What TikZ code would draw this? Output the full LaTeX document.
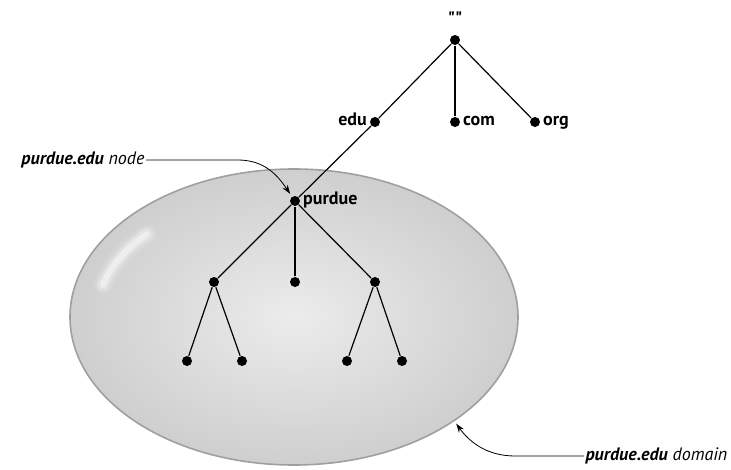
\documentclass[tikz,border=0pt]{standalone}
\usepackage{fontspec}
\setmainfont{PT Sans}
\newfontfamily\qfont{PT Sans}
\usetikzlibrary{arrows.meta,shapes.geometric,calc}
\tikzset{
  dot/.style={circle,fill=black,inner sep=0pt,minimum size=10pt},
  lbl/.style={font=\fontsize{18}{20}\selectfont\bfseries,inner sep=2pt,text height=10pt,text depth=3pt},
  note/.style={font=\fontsize{18}{20}\selectfont,inner sep=1pt}
}
\begin{document}
\begin{tikzpicture}[x=1pt,y=-1pt,line width=1.2pt,>={Stealth[length=9pt,width=6pt]}]
\useasboundingbox (0,0) rectangle (731,469);
% the domain
\node[ellipse,draw=gray!75,line width=1.6pt,minimum width=448,minimum height=296,
      inner color=gray!15,outer color=gray!38] (domain) at (294,317) {};
\begin{scope}
\clip (294,317) ellipse [x radius=222,y radius=146];
\foreach \w/\o in {18/.12,12/.25,6/.45}
  \draw[white,opacity=\o,line width=\w pt,line cap=round] (294,317) ++(195:198 and 124) arc[start angle=195,end angle=222,x radius=198,y radius=124];
\end{scope}
% tree
\node[dot] (root) at (455,40) {};
\node[lbl,anchor=south] (rootlbl) at ([yshift=4pt]root.north) {\qfont\bfseries""};
\node[dot] (edu) at (375,122) {};
\node[dot] (com) at (455,122) {};
\node[dot] (org) at (535,122) {};
\node[dot] (purdue) at (295,201) {};
\node[lbl,anchor=east] at (edu.west) {edu};
\node[lbl,anchor=west] at (com.east) {com};
\node[lbl,anchor=west] at (org.east) {org};
\node[lbl,anchor=west] at (purdue.east) {purdue};
\foreach \n/\x in {a/214,b/295,c/375}
  \node[dot] (\n) at (\x,282) {};
\foreach \n/\x in {aa/187,ab/242,ca/347,cb/402}
  \node[dot] (\n) at (\x,361) {};
\draw (root)--(edu)--(purdue);
\foreach \x/\y in {root/com,root/org,purdue/a,purdue/b,purdue/c,a/aa,a/ab,c/ca,c/cb}
  \draw(\x)--(\y);
% callouts
\node[note,anchor=east] (lblnode) at (146,160) {\textbf{\textit{purdue.edu}} \textit{node}};
\node[note,anchor=west] (lbldom) at (584,456) {\textbf{\textit{purdue.edu}} \textit{domain}};
\draw[->,line width=.8pt,shorten >=3pt] (lblnode.east) -- (238,160) .. controls (265,160) and (278,176) .. (purdue);
\draw[->,line width=.8pt,shorten >=3pt] (lbldom.west) -- (515,456) .. controls (485,456) and (468,440) .. (domain.-33);
\end{tikzpicture}
\end{document}
